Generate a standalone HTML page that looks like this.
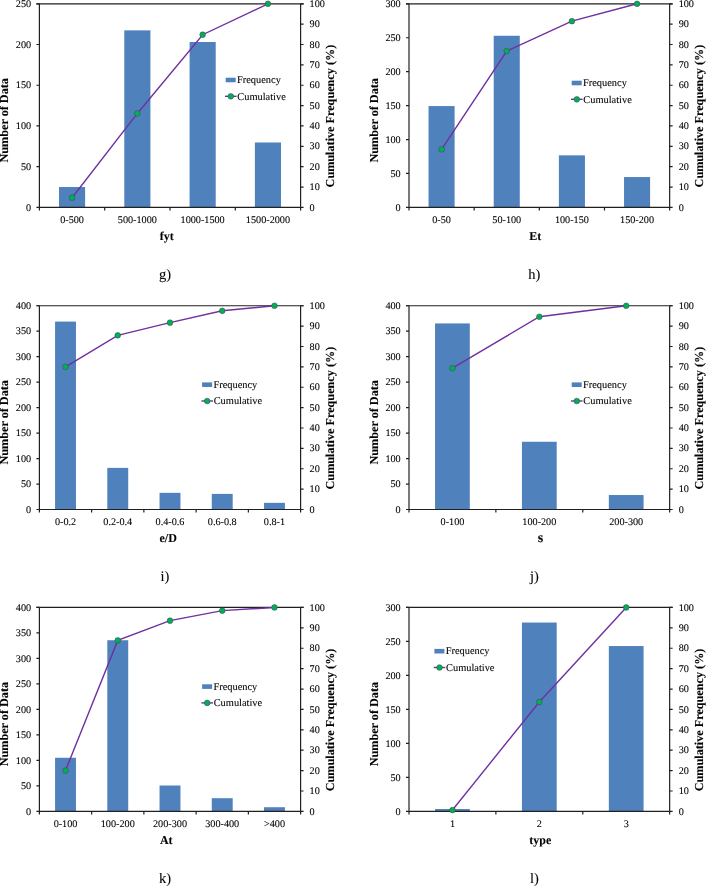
<!DOCTYPE html>
<html><head><meta charset="utf-8"><style>
html,body{margin:0;padding:0;background:#fff;}
body{width:706px;height:886px;overflow:hidden;}
svg{display:block;will-change:transform;}
text{font-family:"Liberation Serif",serif;fill:#000;text-rendering:geometricPrecision;stroke:#000;stroke-width:0.1px;}
.t{font-size:10.2px;}
.lg{font-size:10.4px;}
.yt{font-size:12.2px;font-weight:bold;}
.xt{font-size:12.0px;font-weight:bold;}
.cap{font-size:14.5px;}
</style></head><body>
<svg width="706" height="886" viewBox="0 0 706 886">
<rect width="706" height="886" fill="#fff"/>
<g style="opacity:0.999">
<rect x="58.99" y="187.04" width="26.12" height="20.36" fill="#4f81bd"/>
<rect x="124.29" y="30.35" width="26.12" height="177.05" fill="#4f81bd"/>
<rect x="189.59" y="42" width="26.12" height="165.4" fill="#4f81bd"/>
<rect x="254.89" y="142.49" width="26.12" height="64.91" fill="#4f81bd"/>
<path d="M36.4 3.8H303.6" stroke="#202020" stroke-width="1.2" fill="none"/>
<path d="M39.4 207.4H300.6" stroke="#202020" stroke-width="1.2" fill="none"/>
<path d="M39.4 3.8V210.4" stroke="#202020" stroke-width="1.2" fill="none"/>
<path d="M300.6 3.8V210.4" stroke="#202020" stroke-width="1.2" fill="none"/>
<path d="M36.4 207.4H39.4M36.4 166.68H39.4M36.4 125.96H39.4M36.4 85.24H39.4M36.4 44.52H39.4M36.4 3.8H39.4M300.6 207.4H303.6M300.6 187.04H303.6M300.6 166.68H303.6M300.6 146.32H303.6M300.6 125.96H303.6M300.6 105.6H303.6M300.6 85.24H303.6M300.6 64.88H303.6M300.6 44.52H303.6M300.6 24.16H303.6M300.6 3.8H303.6M104.7 207.4V210.4M170 207.4V210.4M235.3 207.4V210.4" stroke="#202020" stroke-width="1.2" fill="none"/>
<text x="31.1" y="210.5" text-anchor="end" class="t">0</text>
<text x="31.1" y="169.78" text-anchor="end" class="t">50</text>
<text x="31.1" y="129.06" text-anchor="end" class="t">100</text>
<text x="31.1" y="88.34" text-anchor="end" class="t">150</text>
<text x="31.1" y="47.62" text-anchor="end" class="t">200</text>
<text x="31.1" y="6.9" text-anchor="end" class="t">250</text>
<text x="309.6" y="210.5" class="t">0</text>
<text x="309.6" y="190.14" class="t">10</text>
<text x="309.6" y="169.78" class="t">20</text>
<text x="309.6" y="149.42" class="t">30</text>
<text x="309.6" y="129.06" class="t">40</text>
<text x="309.6" y="108.7" class="t">50</text>
<text x="309.6" y="88.34" class="t">60</text>
<text x="309.6" y="67.98" class="t">70</text>
<text x="309.6" y="47.62" class="t">80</text>
<text x="309.6" y="27.26" class="t">90</text>
<text x="309.6" y="6.9" class="t">100</text>
<text x="72.05" y="223" text-anchor="middle" class="t">0-500</text>
<text x="137.35" y="223" text-anchor="middle" class="t">500-1000</text>
<text x="202.65" y="223" text-anchor="middle" class="t">1000-1500</text>
<text x="267.95" y="223" text-anchor="middle" class="t">1500-2000</text>
<polyline points="72.05,197.71 137.35,113.43 202.65,34.7 267.95,3.8" stroke="#7030a0" stroke-width="1.4" fill="none"/>
<circle cx="72.05" cy="197.71" r="2.85" fill="#00b050" stroke="#4b3a6a" stroke-width="0.5"/>
<circle cx="137.35" cy="113.43" r="2.85" fill="#00b050" stroke="#4b3a6a" stroke-width="0.5"/>
<circle cx="202.65" cy="34.7" r="2.85" fill="#00b050" stroke="#4b3a6a" stroke-width="0.5"/>
<circle cx="267.95" cy="3.8" r="2.85" fill="#00b050" stroke="#4b3a6a" stroke-width="0.5"/>
<rect x="225.7" y="77.7" width="10" height="4.6" fill="#4f81bd"/>
<text x="237" y="83" class="lg">Frequency</text>
<path d="M225 96.3H236.6" stroke="#7030a0" stroke-width="1.4"/>
<circle cx="230.8" cy="96.3" r="2.85" fill="#00b050" stroke="#4b3a6a" stroke-width="0.5"/>
<text x="237.3" y="99.6" class="lg">Cumulative</text>
<text transform="translate(8 120.3) rotate(-90)" text-anchor="middle" class="yt">Number of Data</text>
<text transform="translate(334.2 116.1) rotate(-90)" text-anchor="middle" class="yt">Cumulative Frequency (%)</text>
<text x="166.85" y="240.3" text-anchor="middle" class="xt">fyt</text>
<text x="165" y="278.9" text-anchor="middle" class="cap">g)</text>
<rect x="428.55" y="106.08" width="26.06" height="101.32" fill="#4f81bd"/>
<rect x="493.71" y="35.77" width="26.06" height="171.63" fill="#4f81bd"/>
<rect x="558.87" y="155.35" width="26.06" height="52.05" fill="#4f81bd"/>
<rect x="624.04" y="177.06" width="26.06" height="30.34" fill="#4f81bd"/>
<path d="M406 3.8H672.65" stroke="#202020" stroke-width="1.2" fill="none"/>
<path d="M409 207.4H669.65" stroke="#202020" stroke-width="1.2" fill="none"/>
<path d="M409 3.8V210.4" stroke="#202020" stroke-width="1.2" fill="none"/>
<path d="M669.65 3.8V210.4" stroke="#202020" stroke-width="1.2" fill="none"/>
<path d="M406 207.4H409M406 173.47H409M406 139.53H409M406 105.6H409M406 71.67H409M406 37.73H409M406 3.8H409M669.65 207.4H672.65M669.65 187.04H672.65M669.65 166.68H672.65M669.65 146.32H672.65M669.65 125.96H672.65M669.65 105.6H672.65M669.65 85.24H672.65M669.65 64.88H672.65M669.65 44.52H672.65M669.65 24.16H672.65M669.65 3.8H672.65M474.16 207.4V210.4M539.33 207.4V210.4M604.49 207.4V210.4" stroke="#202020" stroke-width="1.2" fill="none"/>
<text x="400.7" y="210.5" text-anchor="end" class="t">0</text>
<text x="400.7" y="176.57" text-anchor="end" class="t">50</text>
<text x="400.7" y="142.63" text-anchor="end" class="t">100</text>
<text x="400.7" y="108.7" text-anchor="end" class="t">150</text>
<text x="400.7" y="74.77" text-anchor="end" class="t">200</text>
<text x="400.7" y="40.83" text-anchor="end" class="t">250</text>
<text x="400.7" y="6.9" text-anchor="end" class="t">300</text>
<text x="678.65" y="210.5" class="t">0</text>
<text x="678.65" y="190.14" class="t">10</text>
<text x="678.65" y="169.78" class="t">20</text>
<text x="678.65" y="149.42" class="t">30</text>
<text x="678.65" y="129.06" class="t">40</text>
<text x="678.65" y="108.7" class="t">50</text>
<text x="678.65" y="88.34" class="t">60</text>
<text x="678.65" y="67.98" class="t">70</text>
<text x="678.65" y="47.62" class="t">80</text>
<text x="678.65" y="27.26" class="t">90</text>
<text x="678.65" y="6.9" class="t">100</text>
<text x="441.58" y="223" text-anchor="middle" class="t">0-50</text>
<text x="506.74" y="223" text-anchor="middle" class="t">50-100</text>
<text x="571.91" y="223" text-anchor="middle" class="t">100-150</text>
<text x="637.07" y="223" text-anchor="middle" class="t">150-200</text>
<polyline points="441.58,149.35 506.74,51.01 571.91,21.18 637.07,3.8" stroke="#7030a0" stroke-width="1.4" fill="none"/>
<circle cx="441.58" cy="149.35" r="2.85" fill="#00b050" stroke="#4b3a6a" stroke-width="0.5"/>
<circle cx="506.74" cy="51.01" r="2.85" fill="#00b050" stroke="#4b3a6a" stroke-width="0.5"/>
<circle cx="571.91" cy="21.18" r="2.85" fill="#00b050" stroke="#4b3a6a" stroke-width="0.5"/>
<circle cx="637.07" cy="3.8" r="2.85" fill="#00b050" stroke="#4b3a6a" stroke-width="0.5"/>
<rect x="571.7" y="80.7" width="10" height="4.6" fill="#4f81bd"/>
<text x="583" y="86" class="lg">Frequency</text>
<path d="M571 99.3H582.6" stroke="#7030a0" stroke-width="1.4"/>
<circle cx="576.8" cy="99.3" r="2.85" fill="#00b050" stroke="#4b3a6a" stroke-width="0.5"/>
<text x="583.3" y="102.6" class="lg">Cumulative</text>
<text transform="translate(377.6 120.3) rotate(-90)" text-anchor="middle" class="yt">Number of Data</text>
<text transform="translate(703.25 116.1) rotate(-90)" text-anchor="middle" class="yt">Cumulative Frequency (%)</text>
<text x="535.25" y="240.3" text-anchor="middle" class="xt">Et</text>
<text x="534.33" y="278.9" text-anchor="middle" class="cap">h)</text>
<rect x="55.07" y="321.59" width="20.9" height="187.91" fill="#4f81bd"/>
<rect x="107.31" y="467.88" width="20.9" height="41.62" fill="#4f81bd"/>
<rect x="159.55" y="492.84" width="20.9" height="16.66" fill="#4f81bd"/>
<rect x="211.79" y="493.91" width="20.9" height="15.59" fill="#4f81bd"/>
<rect x="264.03" y="502.83" width="20.9" height="6.67" fill="#4f81bd"/>
<path d="M36.4 305.75H303.6" stroke="#202020" stroke-width="1.2" fill="none"/>
<path d="M39.4 509.5H300.6" stroke="#202020" stroke-width="1.2" fill="none"/>
<path d="M39.4 305.75V512.5" stroke="#202020" stroke-width="1.2" fill="none"/>
<path d="M300.6 305.75V512.5" stroke="#202020" stroke-width="1.2" fill="none"/>
<path d="M36.4 509.5H39.4M36.4 484.03H39.4M36.4 458.56H39.4M36.4 433.09H39.4M36.4 407.62H39.4M36.4 382.16H39.4M36.4 356.69H39.4M36.4 331.22H39.4M36.4 305.75H39.4M300.6 509.5H303.6M300.6 489.12H303.6M300.6 468.75H303.6M300.6 448.38H303.6M300.6 428H303.6M300.6 407.62H303.6M300.6 387.25H303.6M300.6 366.88H303.6M300.6 346.5H303.6M300.6 326.12H303.6M300.6 305.75H303.6M91.64 509.5V512.5M143.88 509.5V512.5M196.12 509.5V512.5M248.36 509.5V512.5" stroke="#202020" stroke-width="1.2" fill="none"/>
<text x="31.1" y="512.6" text-anchor="end" class="t">0</text>
<text x="31.1" y="487.13" text-anchor="end" class="t">50</text>
<text x="31.1" y="461.66" text-anchor="end" class="t">100</text>
<text x="31.1" y="436.19" text-anchor="end" class="t">150</text>
<text x="31.1" y="410.73" text-anchor="end" class="t">200</text>
<text x="31.1" y="385.26" text-anchor="end" class="t">250</text>
<text x="31.1" y="359.79" text-anchor="end" class="t">300</text>
<text x="31.1" y="334.32" text-anchor="end" class="t">350</text>
<text x="31.1" y="308.85" text-anchor="end" class="t">400</text>
<text x="309.6" y="512.6" class="t">0</text>
<text x="309.6" y="492.23" class="t">10</text>
<text x="309.6" y="471.85" class="t">20</text>
<text x="309.6" y="451.48" class="t">30</text>
<text x="309.6" y="431.1" class="t">40</text>
<text x="309.6" y="410.73" class="t">50</text>
<text x="309.6" y="390.35" class="t">60</text>
<text x="309.6" y="369.98" class="t">70</text>
<text x="309.6" y="349.6" class="t">80</text>
<text x="309.6" y="329.23" class="t">90</text>
<text x="309.6" y="308.85" class="t">100</text>
<text x="65.52" y="525.1" text-anchor="middle" class="t">0-0.2</text>
<text x="117.76" y="525.1" text-anchor="middle" class="t">0.2-0.4</text>
<text x="170" y="525.1" text-anchor="middle" class="t">0.4-0.6</text>
<text x="222.24" y="525.1" text-anchor="middle" class="t">0.6-0.8</text>
<text x="274.48" y="525.1" text-anchor="middle" class="t">0.8-1</text>
<polyline points="65.52,366.88 117.76,335.29 170,322.65 222.24,310.81 274.48,305.75" stroke="#7030a0" stroke-width="1.4" fill="none"/>
<circle cx="65.52" cy="366.88" r="2.85" fill="#00b050" stroke="#4b3a6a" stroke-width="0.5"/>
<circle cx="117.76" cy="335.29" r="2.85" fill="#00b050" stroke="#4b3a6a" stroke-width="0.5"/>
<circle cx="170" cy="322.65" r="2.85" fill="#00b050" stroke="#4b3a6a" stroke-width="0.5"/>
<circle cx="222.24" cy="310.81" r="2.85" fill="#00b050" stroke="#4b3a6a" stroke-width="0.5"/>
<circle cx="274.48" cy="305.75" r="2.85" fill="#00b050" stroke="#4b3a6a" stroke-width="0.5"/>
<rect x="202.1" y="382.4" width="10" height="4.6" fill="#4f81bd"/>
<text x="213.4" y="387.7" class="lg">Frequency</text>
<path d="M201.4 401H213" stroke="#7030a0" stroke-width="1.4"/>
<circle cx="207.2" cy="401" r="2.85" fill="#00b050" stroke="#4b3a6a" stroke-width="0.5"/>
<text x="213.7" y="404.3" class="lg">Cumulative</text>
<text transform="translate(8 422.32) rotate(-90)" text-anchor="middle" class="yt">Number of Data</text>
<text transform="translate(334.2 418.12) rotate(-90)" text-anchor="middle" class="yt">Cumulative Frequency (%)</text>
<text x="168.2" y="542.4" text-anchor="middle" class="xt">e/D</text>
<text x="165" y="581" text-anchor="middle" class="cap">i)</text>
<rect x="435.06" y="323.43" width="34.75" height="186.07" fill="#4f81bd"/>
<rect x="521.95" y="441.75" width="34.75" height="67.75" fill="#4f81bd"/>
<rect x="608.83" y="495.03" width="34.75" height="14.47" fill="#4f81bd"/>
<path d="M406 305.75H672.65" stroke="#202020" stroke-width="1.2" fill="none"/>
<path d="M409 509.5H669.65" stroke="#202020" stroke-width="1.2" fill="none"/>
<path d="M409 305.75V512.5" stroke="#202020" stroke-width="1.2" fill="none"/>
<path d="M669.65 305.75V512.5" stroke="#202020" stroke-width="1.2" fill="none"/>
<path d="M406 509.5H409M406 484.03H409M406 458.56H409M406 433.09H409M406 407.62H409M406 382.16H409M406 356.69H409M406 331.22H409M406 305.75H409M669.65 509.5H672.65M669.65 489.12H672.65M669.65 468.75H672.65M669.65 448.38H672.65M669.65 428H672.65M669.65 407.62H672.65M669.65 387.25H672.65M669.65 366.88H672.65M669.65 346.5H672.65M669.65 326.12H672.65M669.65 305.75H672.65M495.88 509.5V512.5M582.77 509.5V512.5" stroke="#202020" stroke-width="1.2" fill="none"/>
<text x="400.7" y="512.6" text-anchor="end" class="t">0</text>
<text x="400.7" y="487.13" text-anchor="end" class="t">50</text>
<text x="400.7" y="461.66" text-anchor="end" class="t">100</text>
<text x="400.7" y="436.19" text-anchor="end" class="t">150</text>
<text x="400.7" y="410.73" text-anchor="end" class="t">200</text>
<text x="400.7" y="385.26" text-anchor="end" class="t">250</text>
<text x="400.7" y="359.79" text-anchor="end" class="t">300</text>
<text x="400.7" y="334.32" text-anchor="end" class="t">350</text>
<text x="400.7" y="308.85" text-anchor="end" class="t">400</text>
<text x="678.65" y="512.6" class="t">0</text>
<text x="678.65" y="492.23" class="t">10</text>
<text x="678.65" y="471.85" class="t">20</text>
<text x="678.65" y="451.48" class="t">30</text>
<text x="678.65" y="431.1" class="t">40</text>
<text x="678.65" y="410.73" class="t">50</text>
<text x="678.65" y="390.35" class="t">60</text>
<text x="678.65" y="369.98" class="t">70</text>
<text x="678.65" y="349.6" class="t">80</text>
<text x="678.65" y="329.23" class="t">90</text>
<text x="678.65" y="308.85" class="t">100</text>
<text x="452.44" y="525.1" text-anchor="middle" class="t">0-100</text>
<text x="539.33" y="525.1" text-anchor="middle" class="t">100-200</text>
<text x="626.21" y="525.1" text-anchor="middle" class="t">200-300</text>
<polyline points="452.44,368.19 539.33,316.74 626.21,305.75" stroke="#7030a0" stroke-width="1.4" fill="none"/>
<circle cx="452.44" cy="368.19" r="2.85" fill="#00b050" stroke="#4b3a6a" stroke-width="0.5"/>
<circle cx="539.33" cy="316.74" r="2.85" fill="#00b050" stroke="#4b3a6a" stroke-width="0.5"/>
<circle cx="626.21" cy="305.75" r="2.85" fill="#00b050" stroke="#4b3a6a" stroke-width="0.5"/>
<rect x="571.7" y="382.4" width="10" height="4.6" fill="#4f81bd"/>
<text x="583" y="387.7" class="lg">Frequency</text>
<path d="M571 401H582.6" stroke="#7030a0" stroke-width="1.4"/>
<circle cx="576.8" cy="401" r="2.85" fill="#00b050" stroke="#4b3a6a" stroke-width="0.5"/>
<text x="583.3" y="404.3" class="lg">Cumulative</text>
<text transform="translate(377.6 422.32) rotate(-90)" text-anchor="middle" class="yt">Number of Data</text>
<text transform="translate(703.25 418.12) rotate(-90)" text-anchor="middle" class="yt">Cumulative Frequency (%)</text>
<text x="540.6" y="542.4" text-anchor="middle" class="xt" style="font-size:14px">s</text>
<text x="534.33" y="581" text-anchor="middle" class="cap">j)</text>
<rect x="55.07" y="757.76" width="20.9" height="53.64" fill="#4f81bd"/>
<rect x="107.31" y="640.23" width="20.9" height="171.17" fill="#4f81bd"/>
<rect x="159.55" y="785.5" width="20.9" height="25.9" fill="#4f81bd"/>
<rect x="211.79" y="798.19" width="20.9" height="13.21" fill="#4f81bd"/>
<rect x="264.03" y="807.22" width="20.9" height="4.18" fill="#4f81bd"/>
<path d="M36.4 607.45H303.6" stroke="#202020" stroke-width="1.2" fill="none"/>
<path d="M39.4 811.4H300.6" stroke="#202020" stroke-width="1.2" fill="none"/>
<path d="M39.4 607.45V814.4" stroke="#202020" stroke-width="1.2" fill="none"/>
<path d="M300.6 607.45V814.4" stroke="#202020" stroke-width="1.2" fill="none"/>
<path d="M36.4 811.4H39.4M36.4 785.91H39.4M36.4 760.41H39.4M36.4 734.92H39.4M36.4 709.42H39.4M36.4 683.93H39.4M36.4 658.44H39.4M36.4 632.94H39.4M36.4 607.45H39.4M300.6 811.4H303.6M300.6 791H303.6M300.6 770.61H303.6M300.6 750.22H303.6M300.6 729.82H303.6M300.6 709.42H303.6M300.6 689.03H303.6M300.6 668.63H303.6M300.6 648.24H303.6M300.6 627.85H303.6M300.6 607.45H303.6M91.64 811.4V814.4M143.88 811.4V814.4M196.12 811.4V814.4M248.36 811.4V814.4" stroke="#202020" stroke-width="1.2" fill="none"/>
<text x="31.1" y="814.5" text-anchor="end" class="t">0</text>
<text x="31.1" y="789.01" text-anchor="end" class="t">50</text>
<text x="31.1" y="763.51" text-anchor="end" class="t">100</text>
<text x="31.1" y="738.02" text-anchor="end" class="t">150</text>
<text x="31.1" y="712.52" text-anchor="end" class="t">200</text>
<text x="31.1" y="687.03" text-anchor="end" class="t">250</text>
<text x="31.1" y="661.54" text-anchor="end" class="t">300</text>
<text x="31.1" y="636.04" text-anchor="end" class="t">350</text>
<text x="31.1" y="610.55" text-anchor="end" class="t">400</text>
<text x="309.6" y="814.5" class="t">0</text>
<text x="309.6" y="794.11" class="t">10</text>
<text x="309.6" y="773.71" class="t">20</text>
<text x="309.6" y="753.32" class="t">30</text>
<text x="309.6" y="732.92" class="t">40</text>
<text x="309.6" y="712.52" class="t">50</text>
<text x="309.6" y="692.13" class="t">60</text>
<text x="309.6" y="671.74" class="t">70</text>
<text x="309.6" y="651.34" class="t">80</text>
<text x="309.6" y="630.95" class="t">90</text>
<text x="309.6" y="610.55" class="t">100</text>
<text x="65.52" y="827" text-anchor="middle" class="t">0-100</text>
<text x="117.76" y="827" text-anchor="middle" class="t">100-200</text>
<text x="170" y="827" text-anchor="middle" class="t">200-300</text>
<text x="222.24" y="827" text-anchor="middle" class="t">300-400</text>
<text x="274.48" y="827" text-anchor="middle" class="t">&gt;400</text>
<polyline points="65.52,770.59 117.76,640.38 170,620.68 222.24,610.63 274.48,607.45" stroke="#7030a0" stroke-width="1.4" fill="none"/>
<circle cx="65.52" cy="770.59" r="2.85" fill="#00b050" stroke="#4b3a6a" stroke-width="0.5"/>
<circle cx="117.76" cy="640.38" r="2.85" fill="#00b050" stroke="#4b3a6a" stroke-width="0.5"/>
<circle cx="170" cy="620.68" r="2.85" fill="#00b050" stroke="#4b3a6a" stroke-width="0.5"/>
<circle cx="222.24" cy="610.63" r="2.85" fill="#00b050" stroke="#4b3a6a" stroke-width="0.5"/>
<circle cx="274.48" cy="607.45" r="2.85" fill="#00b050" stroke="#4b3a6a" stroke-width="0.5"/>
<rect x="202.1" y="684.3" width="10" height="4.6" fill="#4f81bd"/>
<text x="213.4" y="689.6" class="lg">Frequency</text>
<path d="M201.4 702.9H213" stroke="#7030a0" stroke-width="1.4"/>
<circle cx="207.2" cy="702.9" r="2.85" fill="#00b050" stroke="#4b3a6a" stroke-width="0.5"/>
<text x="213.7" y="706.2" class="lg">Cumulative</text>
<text transform="translate(8 724.12) rotate(-90)" text-anchor="middle" class="yt">Number of Data</text>
<text transform="translate(334.2 719.92) rotate(-90)" text-anchor="middle" class="yt">Cumulative Frequency (%)</text>
<text x="166.3" y="844.3" text-anchor="middle" class="xt">At</text>
<text x="165" y="882.9" text-anchor="middle" class="cap">k)</text>
<rect x="435.06" y="809.02" width="34.75" height="2.38" fill="#4f81bd"/>
<rect x="521.95" y="622.54" width="34.75" height="188.86" fill="#4f81bd"/>
<rect x="608.83" y="646.06" width="34.75" height="165.34" fill="#4f81bd"/>
<path d="M406 607.45H672.65" stroke="#202020" stroke-width="1.2" fill="none"/>
<path d="M409 811.4H669.65" stroke="#202020" stroke-width="1.2" fill="none"/>
<path d="M409 607.45V814.4" stroke="#202020" stroke-width="1.2" fill="none"/>
<path d="M669.65 607.45V814.4" stroke="#202020" stroke-width="1.2" fill="none"/>
<path d="M406 811.4H409M406 777.41H409M406 743.42H409M406 709.42H409M406 675.43H409M406 641.44H409M406 607.45H409M669.65 811.4H672.65M669.65 791H672.65M669.65 770.61H672.65M669.65 750.22H672.65M669.65 729.82H672.65M669.65 709.42H672.65M669.65 689.03H672.65M669.65 668.63H672.65M669.65 648.24H672.65M669.65 627.85H672.65M669.65 607.45H672.65M495.88 811.4V814.4M582.77 811.4V814.4" stroke="#202020" stroke-width="1.2" fill="none"/>
<text x="400.7" y="814.5" text-anchor="end" class="t">0</text>
<text x="400.7" y="780.51" text-anchor="end" class="t">50</text>
<text x="400.7" y="746.52" text-anchor="end" class="t">100</text>
<text x="400.7" y="712.52" text-anchor="end" class="t">150</text>
<text x="400.7" y="678.53" text-anchor="end" class="t">200</text>
<text x="400.7" y="644.54" text-anchor="end" class="t">250</text>
<text x="400.7" y="610.55" text-anchor="end" class="t">300</text>
<text x="678.65" y="814.5" class="t">0</text>
<text x="678.65" y="794.11" class="t">10</text>
<text x="678.65" y="773.71" class="t">20</text>
<text x="678.65" y="753.32" class="t">30</text>
<text x="678.65" y="732.92" class="t">40</text>
<text x="678.65" y="712.52" class="t">50</text>
<text x="678.65" y="692.13" class="t">60</text>
<text x="678.65" y="671.74" class="t">70</text>
<text x="678.65" y="651.34" class="t">80</text>
<text x="678.65" y="630.95" class="t">90</text>
<text x="678.65" y="610.55" class="t">100</text>
<text x="452.44" y="827" text-anchor="middle" class="t">1</text>
<text x="539.33" y="827" text-anchor="middle" class="t">2</text>
<text x="626.21" y="827" text-anchor="middle" class="t">3</text>
<polyline points="452.44,810.04 539.33,702.02 626.21,607.45" stroke="#7030a0" stroke-width="1.4" fill="none"/>
<circle cx="452.44" cy="810.04" r="2.85" fill="#00b050" stroke="#4b3a6a" stroke-width="0.5"/>
<circle cx="539.33" cy="702.02" r="2.85" fill="#00b050" stroke="#4b3a6a" stroke-width="0.5"/>
<circle cx="626.21" cy="607.45" r="2.85" fill="#00b050" stroke="#4b3a6a" stroke-width="0.5"/>
<rect x="434.4" y="648.9" width="10" height="4.6" fill="#4f81bd"/>
<text x="445.7" y="654.2" class="lg">Frequency</text>
<path d="M433.7 667.5H445.3" stroke="#7030a0" stroke-width="1.4"/>
<circle cx="439.5" cy="667.5" r="2.85" fill="#00b050" stroke="#4b3a6a" stroke-width="0.5"/>
<text x="446" y="670.8" class="lg">Cumulative</text>
<text transform="translate(377.6 724.12) rotate(-90)" text-anchor="middle" class="yt">Number of Data</text>
<text transform="translate(703.25 719.92) rotate(-90)" text-anchor="middle" class="yt">Cumulative Frequency (%)</text>
<text x="540.35" y="844.3" text-anchor="middle" class="xt">type</text>
<text x="534.33" y="882.9" text-anchor="middle" class="cap">l)</text>
</g>
</svg>
</body></html>
